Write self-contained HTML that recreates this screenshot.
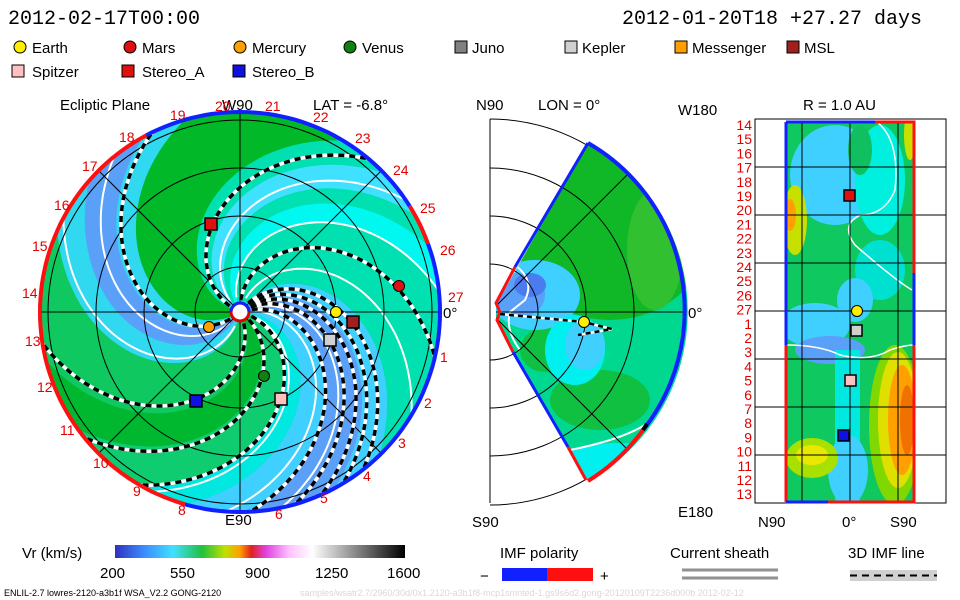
<!DOCTYPE html>
<html><head><meta charset="utf-8"><style>
html,body{margin:0;padding:0;background:#fff;}
svg{display:block;font-family:"Liberation Sans",sans-serif;}
</style></head><body>
<svg id="s" width="960" height="600" viewBox="0 0 960 600" xmlns="http://www.w3.org/2000/svg">
<defs>
<linearGradient id="cb" x1="0" x2="1" y1="0" y2="0">
<stop offset="0" stop-color="#3030c0"/><stop offset="0.1" stop-color="#3c8cff"/>
<stop offset="0.2" stop-color="#40e0ff"/><stop offset="0.3" stop-color="#20c040"/>
<stop offset="0.38" stop-color="#c0e000"/><stop offset="0.43" stop-color="#ffa000"/>
<stop offset="0.47" stop-color="#e02020"/><stop offset="0.52" stop-color="#e040e0"/>
<stop offset="0.6" stop-color="#ffc0ff"/><stop offset="0.68" stop-color="#ffffff"/>
<stop offset="0.8" stop-color="#a0a0a0"/><stop offset="1" stop-color="#000"/>
</linearGradient>
<clipPath id="cl"><circle cx="240" cy="312" r="200"/></clipPath>
<clipPath id="cm"><path d="M496,305 L588,143 A193,193 0 0 1 588,481 L496,320 Z"/></clipPath>
<clipPath id="cr"><rect x="786" y="122" width="128" height="380"/></clipPath>
</defs>
<g font-family="Liberation Mono, monospace" font-size="20" fill="#000">
<text x="8" y="24">2012-02-17T00:00</text>
<text x="622" y="24">2012-01-20T18 +27.27 days</text>
</g>
<g font-size="15">
<circle cx="20" cy="47" r="6" fill="#ffee00" stroke="#000"/><text x="32" y="53">Earth</text>
<circle cx="130" cy="47" r="6" fill="#e01010" stroke="#000"/><text x="142" y="53">Mars</text>
<circle cx="240" cy="47" r="6" fill="#ffa000" stroke="#000"/><text x="252" y="53">Mercury</text>
<circle cx="350" cy="47" r="6" fill="#108010" stroke="#000"/><text x="362" y="53">Venus</text>
<rect x="455" y="41" width="12" height="12" fill="#808080" stroke="#000"/><text x="472" y="53">Juno</text>
<rect x="565" y="41" width="12" height="12" fill="#d0d0d0" stroke="#000"/><text x="582" y="53">Kepler</text>
<rect x="675" y="41" width="12" height="12" fill="#ffa000" stroke="#000"/><text x="692" y="53">Messenger</text>
<rect x="787" y="41" width="12" height="12" fill="#a02020" stroke="#000"/><text x="804" y="53">MSL</text>
<rect x="12" y="65" width="12" height="12" fill="#ffc0c0" stroke="#000"/><text x="32" y="77">Spitzer</text>
<rect x="122" y="65" width="12" height="12" fill="#e01010" stroke="#000"/><text x="142" y="77">Stereo_A</text>
<rect x="233" y="65" width="12" height="12" fill="#1010e0" stroke="#000"/><text x="252" y="77">Stereo_B</text>
<text x="60" y="110">Ecliptic Plane</text><text x="222" y="110">W90</text><text x="313" y="110">LAT = -6.8°</text>
<text x="476" y="110">N90</text><text x="538" y="110">LON = 0°</text>
<text x="678" y="115">W180</text><text x="803" y="110">R = 1.0 AU</text>
<text x="225" y="525">E90</text><text x="472" y="527">S90</text><text x="678" y="517">E180</text>
<text x="758" y="527">N90</text><text x="842" y="527">0°</text><text x="890" y="527">S90</text>
<text x="443" y="318">0°</text><text x="688" y="318">0°</text>
</g>
<!-- left plot -->
<g clip-path="url(#cl)">
<circle cx="240" cy="312" r="200" fill="#00d890"/>
<g id="bands"></g>
<g id="wl" fill="none"></g>
</g>
<g fill="none" stroke="#000" stroke-width="1">
<circle cx="240" cy="312" r="45"/><circle cx="240" cy="312" r="96"/><circle cx="240" cy="312" r="144"/><circle cx="240" cy="312" r="192"/>
<line x1="40" y1="312" x2="440" y2="312"/><line x1="240" y1="112" x2="240" y2="512"/>
<line x1="99" y1="171" x2="381" y2="453"/><line x1="99" y1="453" x2="381" y2="171"/>
</g>
<g id="dash" fill="none" clip-path="url(#cl)"></g>
<g id="rim" fill="none" stroke-width="4"></g>
<g id="nums" fill="#e00000" font-size="14"></g>
<circle cx="240" cy="312" r="9" fill="#fff" stroke="#e00000" stroke-width="3"/>
<path d="M231,312 A9,9 0 0 1 249,312" fill="none" stroke="#1020ff" stroke-width="3"/>
<circle cx="399" cy="286" r="5.5" fill="#e01010" stroke="#000"/>
<circle cx="336" cy="312" r="5.5" fill="#ffee00" stroke="#000"/>
<circle cx="209" cy="327" r="5.5" fill="#ffa000" stroke="#000"/>
<circle cx="264" cy="376" r="5.5" fill="#108010" stroke="#000"/>
<rect x="347" y="316" width="12" height="12" fill="#a02020" stroke="#000" stroke-width="1.5"/>
<rect x="324" y="334" width="12" height="12" fill="#d0d0d0" stroke="#000" stroke-width="1.5"/>
<rect x="275" y="393" width="12" height="12" fill="#ffc0c0" stroke="#000" stroke-width="1.5"/>
<rect x="205" y="218" width="12" height="12" fill="#e01010" stroke="#000" stroke-width="1.5"/>
<rect x="190" y="395" width="12" height="12" fill="#1010e0" stroke="#000" stroke-width="1.5"/>
<!-- middle -->
<g fill="none" stroke="#000" stroke-width="1">
<line x1="490" y1="119" x2="490" y2="503"/>
<path d="M490,264 A48,48 0 0 1 490,360"/><path d="M490,216 A96,96 0 0 1 490,408"/>
<path d="M490,168 A144,144 0 0 1 490,456"/><path d="M490,119 A193,193 0 0 1 490,505"/>
</g>
<g clip-path="url(#cm)">
<rect x="490" y="112" width="200" height="400" fill="#00d890"/>
<ellipse cx="610" cy="230" rx="100" ry="90" fill="#10b828"/>
<ellipse cx="655" cy="250" rx="28" ry="60" fill="#30c030"/>
<ellipse cx="600" cy="400" rx="50" ry="30" fill="#10c040"/>
<ellipse cx="545" cy="350" rx="25" ry="22" fill="#10c040"/>
<ellipse cx="535" cy="295" rx="45" ry="35" fill="#40d0ff"/>
<ellipse cx="575" cy="350" rx="30" ry="35" fill="#00f0f0"/>
<ellipse cx="585" cy="345" rx="20" ry="25" fill="#40d0ff"/>
<ellipse cx="520" cy="295" rx="25" ry="22" fill="#5aa0f8"/>
<ellipse cx="530" cy="285" rx="16" ry="12" fill="#4a7cf0"/>
<ellipse cx="620" cy="465" rx="70" ry="22" fill="#00f0f0"/>
<path d="M515,265 Q535,280 525,300 L510,312 Q505,330 520,350" stroke="#fff" stroke-width="2" fill="none"/>
<path d="M570,450 Q620,440 645,425" stroke="#fff" stroke-width="2" fill="none"/>
<g stroke="#000" fill="none">
<path d="M490,264 A48,48 0 0 1 490,360"/><path d="M490,216 A96,96 0 0 1 490,408"/>
<path d="M490,168 A144,144 0 0 1 490,456"/>
<line x1="490" y1="312" x2="685" y2="312"/><line x1="490" y1="312" x2="627" y2="175"/><line x1="490" y1="312" x2="627" y2="449"/>
</g>
</g>
<path d="M588,143 A193,193 0 0 1 643,430" stroke="#1020ff" stroke-width="4" fill="none"/>
<path d="M643,430 A193,193 0 0 1 588,481" stroke="#ff1010" stroke-width="4" fill="none"/>
<path d="M643,430 L647,424" stroke="#000" stroke-width="4"/>
<path d="M588,143 L515,267" stroke="#1020ff" stroke-width="3"/>
<path d="M515,267 L496,303 L500,312 L497,320 L513,352" stroke="#ff1010" stroke-width="3" fill="none"/>
<path d="M513,352 L568,447" stroke="#1020ff" stroke-width="3"/>
<path d="M568,447 L586,480" stroke="#ff1010" stroke-width="3"/>
<path d="M500,314 L584,322 L612,329 L578,335" stroke="#fff" stroke-width="2.5" fill="none"/>
<path d="M500,314 L584,322 L612,329 L578,335" stroke="#000" stroke-width="2.5" stroke-dasharray="5,4" fill="none"/>
<circle cx="584" cy="322" r="5.5" fill="#ffee00" stroke="#000"/>
<!-- right -->
<g clip-path="url(#cr)">
<rect x="786" y="122" width="128" height="380" fill="#10c860"/>
<ellipse cx="835" cy="175" rx="45" ry="50" fill="#40d0ff"/>
<ellipse cx="880" cy="180" rx="25" ry="55" fill="#00f0e0"/>
<ellipse cx="860" cy="150" rx="12" ry="25" fill="#10c060"/>
<ellipse cx="795" cy="220" rx="12" ry="35" fill="#c8e000"/>
<ellipse cx="790" cy="215" rx="6" ry="16" fill="#ffa000"/>
<ellipse cx="880" cy="270" rx="25" ry="30" fill="#00e0d0"/>
<ellipse cx="855" cy="300" rx="18" ry="22" fill="#40d0ff"/>
<ellipse cx="815" cy="325" rx="35" ry="22" fill="#40d0ff"/>
<ellipse cx="830" cy="350" rx="35" ry="14" fill="#5aa0f8"/>
<rect x="835" y="350" width="25" height="152" fill="#00e8e0"/>
<ellipse cx="848" cy="470" rx="20" ry="35" fill="#40d0ff"/>
<ellipse cx="895" cy="425" rx="26" ry="80" fill="#80d800"/>
<ellipse cx="898" cy="420" rx="20" ry="68" fill="#e0e000"/>
<ellipse cx="902" cy="420" rx="14" ry="55" fill="#ffa000"/>
<ellipse cx="907" cy="420" rx="7" ry="35" fill="#f07000"/>
<ellipse cx="910" cy="135" rx="6" ry="25" fill="#c8e000"/>
<ellipse cx="812" cy="458" rx="26" ry="20" fill="#a8e000"/>
<ellipse cx="812" cy="455" rx="16" ry="10" fill="#e8e800"/>
<path d="M877,122 Q900,140 895,190 Q885,215 860,215 Q840,225 855,245 Q895,280 912,290" stroke="#fff" stroke-width="1.5" fill="none"/>
<path d="M786,345 Q820,345 840,355 Q870,362 890,350 Q905,345 914,345" stroke="#fff" stroke-width="1.5" fill="none"/>
</g>
<g stroke="#000" fill="none">
<rect x="755" y="119" width="191" height="384"/>
<line x1="755" y1="167" x2="946" y2="167"/><line x1="755" y1="215" x2="946" y2="215"/>
<line x1="755" y1="263" x2="946" y2="263"/><line x1="755" y1="311" x2="946" y2="311"/>
<line x1="755" y1="359" x2="946" y2="359"/><line x1="755" y1="407" x2="946" y2="407"/>
<line x1="755" y1="455" x2="946" y2="455"/>
<line x1="802" y1="122" x2="802" y2="502"/><line x1="850" y1="122" x2="850" y2="502"/><line x1="898" y1="122" x2="898" y2="502"/>
</g>
<path d="M786,122 L786,345" stroke="#1020ff" stroke-width="3"/>
<path d="M786,345 L786,502" stroke="#ff1010" stroke-width="3"/>
<path d="M786,122 L875,122" stroke="#1020ff" stroke-width="3"/>
<path d="M875,122 L914,122 L914,273" stroke="#ff1010" stroke-width="3" fill="none"/>
<path d="M914,273 L914,345" stroke="#1020ff" stroke-width="3"/>
<path d="M914,345 L914,502 L828,502" stroke="#ff1010" stroke-width="3" fill="none"/>
<path d="M828,502 L786,502" stroke="#1020ff" stroke-width="3"/>
<g id="rnums" fill="#e00000" font-size="14" text-anchor="end"></g>
<rect x="844" y="190" width="11" height="11" fill="#e01010" stroke="#000" stroke-width="1.5"/>
<circle cx="857" cy="311" r="5.5" fill="#ffee00" stroke="#000"/>
<rect x="851" y="325" width="11" height="11" fill="#d0d0d0" stroke="#000" stroke-width="1.5"/>
<rect x="845" y="375" width="11" height="11" fill="#ffc0c0" stroke="#000" stroke-width="1.5"/>
<rect x="838" y="430" width="11" height="11" fill="#1010e0" stroke="#000" stroke-width="1.5"/>
<!-- colorbar -->
<rect x="115" y="545" width="290" height="13" fill="url(#cb)"/>
<g font-size="15">
<text x="22" y="558">Vr (km/s)</text>
<text x="100" y="578">200</text><text x="170" y="578">550</text><text x="245" y="578">900</text>
<text x="315" y="578">1250</text><text x="387" y="578">1600</text>
<text x="500" y="558">IMF polarity</text><text x="670" y="558">Current sheath</text><text x="848" y="558">3D IMF line</text>
<text x="480" y="581">−</text><text x="600" y="581">+</text>
</g>
<rect x="502" y="568" width="45" height="13" fill="#1020ff"/><rect x="547" y="568" width="46" height="13" fill="#ff1010"/>
<line x1="682" y1="570" x2="778" y2="570" stroke="#909090" stroke-width="3"/>
<line x1="682" y1="578" x2="778" y2="578" stroke="#909090" stroke-width="3"/>
<rect x="850" y="570" width="87" height="11" fill="#d0d0d0"/>
<line x1="850" y1="575.5" x2="937" y2="575.5" stroke="#000" stroke-width="2" stroke-dasharray="7,5"/>
<text x="4" y="596" font-size="9">ENLIL-2.7 lowres-2120-a3b1f WSA_V2.2 GONG-2120</text>
<text x="300" y="596" font-size="9" fill="#d8d8d8">samples/wsatr2.7/2960/30d/0x1.2120-a3b1f8-mcp1smnted-1.gs9s6d2.gong-20120109T2236d000b     2012-02-12</text>
</svg>
<script>
var NS="http://www.w3.org/2000/svg",cx=240,cy=312,D=Math.PI/180,KK=0.53;
function pt(t0,r){var t=(t0-KK*r)*D;return [cx+r*Math.cos(t),cy-r*Math.sin(t)];}
function sp(t0,r0,r1){var d="";for(var r=r0;r<=r1;r+=3){var p=pt(t0,r);d+=(d?"L":"M")+p[0].toFixed(1)+","+p[1].toFixed(1);}return d;}
function add(g,d,st,w,da){var p=document.createElementNS(NS,"path");p.setAttribute("d",d);p.setAttribute("stroke",st);p.setAttribute("stroke-width",w);p.setAttribute("fill","none");if(da)p.setAttribute("stroke-dasharray",da);document.getElementById(g).appendChild(p);}
function band(a,b,col){var d="",r;for(r=0;r<=240;r+=4){var p=pt(a,r);d+=(d?"L":"M")+p[0].toFixed(1)+","+p[1].toFixed(1);}for(r=240;r>=0;r-=4){var p=pt(b,r);d+="L"+p[0].toFixed(1)+","+p[1].toFixed(1);}d+="Z";var e=document.createElementNS(NS,"path");e.setAttribute("d",d);e.setAttribute("fill",col);document.getElementById("bands").appendChild(e);}
[[0,60,"#40d0ff"],[18,44,"#5aa0f8"],[60,100,"#00e0b0"],[100,165,"#00e0b0"],[112,125,"#00f8f0"],[135,150,"#40e0ff"],[165,212,"#00b828"],[212,262,"#30d8f0"],[225,245,"#5aa0f8"],[262,300,"#10c860"],[300,322,"#00b830"],[322,345,"#10cc70"],[345,360,"#00e8e0"]].forEach(function(b){band(b[0],b[1],b[2]);});
[12,28,75,112,140,235,258,350].forEach(function(t){add("wl",sp(t,15,260),"#fff",2);});
[19,32,40,47,54,93,156,222,295,325,346].forEach(function(t){var d=sp(t,12,215);add("dash",d,"#fff",3.5);add("dash",d,"#000",3.5,"6,5");});
var rim=[[-106,20,"#1020ff"],[20,32,"#ff1010"],[32,118,"#1020ff"],[118,254,"#ff1010"]];
rim.forEach(function(a){var d="";for(var t=a[0];t<=a[1];t+=2){var r=t*D;d+=(d?"L":"M")+(cx+200*Math.cos(r)).toFixed(1)+","+(cy-200*Math.sin(r)).toFixed(1);}add("rim",d,a[2],4);});
var L=[["19",170,120],["20",215,111],["21",265,111],["22",313,122],["23",355,143],["24",393,175],["25",420,213],["26",440,255],["27",448,302],["1",440,362],["2",424,408],["3",398,448],["4",363,481],["5",320,503],["6",275,519],["8",178,515],["9",133,496],["10",93,468],["11",60,435],["12",37,392],["13",25,346],["14",22,298],["15",32,251],["16",54,210],["17",82,171],["18",119,142]];
var g=document.getElementById("nums");L.forEach(function(l){var t=document.createElementNS(NS,"text");t.setAttribute("x",l[1]);t.setAttribute("y",l[2]);t.textContent=l[0];g.appendChild(t);});
var rn=[];for(var i=14;i<=27;i++)rn.push(i);for(var i=1;i<=13;i++)rn.push(i);
var rg=document.getElementById("rnums");rn.forEach(function(n,i){var t=document.createElementNS(NS,"text");t.setAttribute("x",752);t.setAttribute("y",(130+i*14.2).toFixed(1));t.textContent=n;rg.appendChild(t);});
</script>
</body></html>
